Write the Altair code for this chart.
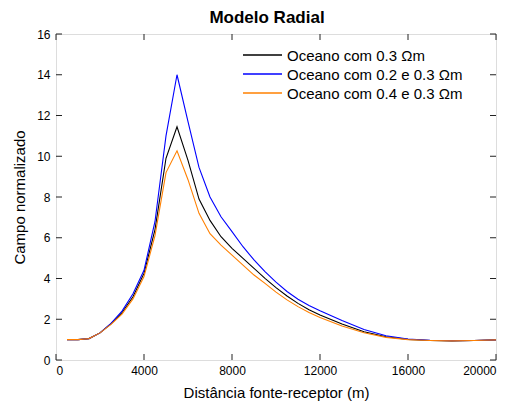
import altair as alt
import pandas as pd

# Distance (m)
dist = [500, 1000, 1500, 2000, 2500, 3000, 3500, 4000, 4500, 5000, 5500, 6000,
        6500, 7000, 7500, 8000, 8500, 9000, 9500, 10000, 10500, 11000, 11500,
        12000, 13000, 14000, 15000, 16000, 17000, 18000, 19000, 20000]

campo_03 = [1.0, 1.0, 1.05, 1.33, 1.78, 2.32, 3.1, 4.25, 6.4, 9.9, 11.45, 9.8,
            7.9, 6.85, 6.05, 5.48, 4.99, 4.5, 4.01, 3.55, 3.14, 2.78, 2.47,
            2.21, 1.77, 1.39, 1.14, 1.01, 0.96, 0.94, 0.96, 0.99]

campo_02_03 = [1.0, 1.0, 1.05, 1.33, 1.8, 2.4, 3.25, 4.4, 6.8, 11.0, 14.0, 11.7,
               9.45, 8.0, 7.03, 6.3, 5.56, 4.91, 4.34, 3.82, 3.36, 2.98, 2.68,
               2.42, 1.94, 1.5, 1.19, 1.03, 0.97, 0.95, 0.96, 0.99]

campo_04_03 = [1.0, 1.0, 1.05, 1.33, 1.75, 2.25, 3.0, 4.1, 6.1, 9.2, 10.27, 8.85,
               7.2, 6.2, 5.64, 5.15, 4.66, 4.17, 3.76, 3.33, 2.95, 2.62, 2.33,
               2.09, 1.67, 1.34, 1.11, 1.0, 0.96, 0.94, 0.96, 0.99]

series_names = ["Oceano com 0.3 \u03a9m",
                "Oceano com 0.2 e 0.3 \u03a9m",
                "Oceano com 0.4 e 0.3 \u03a9m"]
series_values = [campo_03, campo_02_03, campo_04_03]
series_colors = ["#000000", "#0000ff", "#ff8000"]

x_ticks = [0, 4000, 8000, 12000, 16000, 20000]
y_ticks = [0, 2, 4, 6, 8, 10, 12, 14, 16]

W, H = 440, 326
FONT = "Liberation Sans"

xscale = alt.Scale(domain=[0, 20000], nice=False)
yscale = alt.Scale(domain=[0, 16], nice=False)

layers = []
for i, (name, vals, col) in enumerate(zip(series_names, series_values, series_colors)):
    df = pd.DataFrame({"dist": dist, "campo": vals, "serie": name})
    enc_x = alt.X("dist:Q", scale=xscale,
                  axis=alt.Axis(values=x_ticks, title="Distância fonte-receptor (m)",
                                ticks=False, domain=False, grid=False,
                                labelFontSize=12, titleFontSize=15,
                                labelFont=FONT, titleFont=FONT,
                                labelPadding=5, titlePadding=9,
                                titleFontWeight="normal", labelColor="#000",
                                titleColor="#000", format="d"))
    enc_y = alt.Y("campo:Q", scale=yscale,
                  axis=alt.Axis(values=y_ticks, title="Campo normalizado",
                                ticks=False, domain=False, grid=False,
                                labelFontSize=12, titleFontSize=15,
                                labelFont=FONT, titleFont=FONT,
                                labelPadding=6, titlePadding=9,
                                titleFontWeight="normal", labelColor="#000",
                                titleColor="#000"))
    if i > 0:
        enc_x = alt.X("dist:Q", scale=xscale)
        enc_y = alt.Y("campo:Q", scale=yscale)
    line = alt.Chart(df).mark_line(color=col, strokeWidth=1.1).encode(x=enc_x, y=enc_y)
    layers.append(line)

# inward ticks
xt = pd.DataFrame({"dist": x_ticks})
yt = pd.DataFrame({"campo": y_ticks})
TL = 6
layers.append(alt.Chart(xt).mark_rule(color="#222", strokeWidth=1).encode(
    x=alt.X("dist:Q", scale=xscale), y=alt.value(H), y2=alt.value(H - TL)))
layers.append(alt.Chart(xt).mark_rule(color="#222", strokeWidth=1).encode(
    x=alt.X("dist:Q", scale=xscale), y=alt.value(0), y2=alt.value(TL)))
layers.append(alt.Chart(yt).mark_rule(color="#222", strokeWidth=1).encode(
    y=alt.Y("campo:Q", scale=yscale), x=alt.value(0), x2=alt.value(TL)))
layers.append(alt.Chart(yt).mark_rule(color="#222", strokeWidth=1).encode(
    y=alt.Y("campo:Q", scale=yscale), x=alt.value(W - TL), x2=alt.value(W)))

# legend (drawn manually inside plot)
for i, (name, col) in enumerate(zip(series_names, series_colors)):
    ld = pd.DataFrame({"serie": [name]})
    ly = 21 + i * 19
    layers.append(alt.Chart(ld).mark_rule(color=col, strokeWidth=1.3).encode(
        x=alt.value(187), x2=alt.value(226), y=alt.value(ly)))
    layers.append(alt.Chart(ld).mark_text(align="left", baseline="middle",
                                          fontSize=15, font=FONT, color="#000").encode(
        x=alt.value(231), y=alt.value(ly + 1), text="serie:N"))

chart = alt.layer(*layers).properties(
    width=W, height=H,
    title=alt.TitleParams("Modelo Radial", fontSize=17, font=FONT, fontWeight="bold",
                          anchor="middle", dx=-9, offset=1, color="#000"),
    autosize=alt.AutoSizeParams(type="none"),
    padding={"left": 48, "top": 26, "right": 19, "bottom": 42},
).configure_view(stroke="#222", strokeWidth=1.2).configure(background="white")

chart.save("out.html", embed_options={"renderer": "svg", "actions": False})
